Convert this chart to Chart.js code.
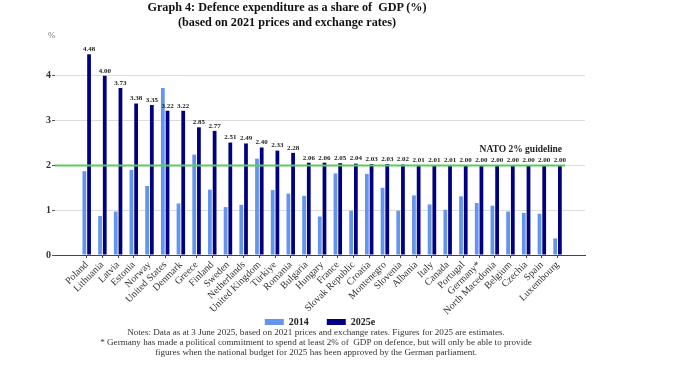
<!DOCTYPE html>
<html>
<head>
<meta charset="utf-8">
<script src="https://cdn.jsdelivr.net/npm/chart.js@4/dist/chart.umd.min.js"></script>
<style>
  body { margin: 0; background: #fff; }
  #wrap { position: relative; width: 678px; height: 381px; font-family: 'Liberation Serif', 'DejaVu Serif', serif; }
  #chart { position: absolute; left: 0; top: 0; }
  #title { position: absolute; left: 0; top: 0; width: 574px; text-align: center; font-weight: bold; font-size: 12.2px; line-height: 15px; color: #111; }
  #unit { position: absolute; left: 48px; top: 30px; font-size: 9px; color: #777; }
  #notes { position: absolute; left: 0; top: 327px; width: 632px; text-align: center; font-size: 9.1px; line-height: 10px; color: #333; }
</style>
</head>
<body>
<div id="wrap">
  <canvas id="chart" width="678" height="381"></canvas>
  <div id="title">Graph 4: Defence expenditure as a share of&nbsp; GDP (%)<br>(based on 2021 prices and exchange rates)</div>
  <div id="unit">%</div>
  <div id="notes">Notes: Data as at 3 June 2025, based on 2021 prices and exchange rates. Figures for 2025 are estimates.<br>* Germany has made a political commitment to spend at least 2% of&nbsp; GDP on defence, but will only be able to provide<br>figures when the national budget for 2025 has been approved by the German parliament.</div>
</div>
<script>
// Data
const countries = ['Poland', 'Lithuania', 'Latvia', 'Estonia', 'Norway', 'United States', 'Denmark', 'Greece',
  'Finland', 'Sweden', 'Netherlands', 'United Kingdom', 'Türkiye', 'Romania', 'Bulgaria', 'Hungary', 'France',
  'Slovak Republic', 'Croatia', 'Montenegro', 'Slovenia', 'Albania', 'Italy', 'Canada', 'Portugal', 'Germany*',
  'North Macedonia', 'Belgium', 'Czechia', 'Spain', 'Luxembourg'];
const values2014 = [1.87, 0.87, 0.97, 1.90, 1.54, 3.73, 1.15, 2.24, 1.46, 1.07, 1.12, 2.15, 1.45, 1.37, 1.32, 0.86,
  1.82, 0.99, 1.81, 1.50, 0.99, 1.33, 1.13, 1.01, 1.31, 1.16, 1.10, 0.97, 0.94, 0.92, 0.37];
const values2025 = [4.48, 4.00, 3.73, 3.38, 3.35, 3.22, 3.22, 2.85, 2.77, 2.51, 2.49, 2.40, 2.33, 2.28, 2.06, 2.06,
  2.05, 2.04, 2.03, 2.03, 2.02, 2.01, 2.01, 2.01, 2.00, 2.00, 2.00, 2.00, 2.00, 2.00, 2.00];
const seriesLabels = ['2014', '2025e'];
const yTicks = [0, 1, 2, 3, 4];
const natoLevel = 2;
const natoLabel = 'NATO 2% guideline';

const SERIF = "'Liberation Serif', 'DejaVu Serif', serif";
Chart.defaults.font.family = SERIF;

// x range in category units (leaves the empty margin at both ends of the axis)
const X_MIN = -2.02;
const X_MAX = 31.75;
const NATO_END = 30.48;

// Value labels above the 2025 bars and the NATO caption
const labelPlugin = {
  id: 'labels',
  afterLayout(chart) {
    // pull the legend up under the short labels
    chart.legend.top -= 16;
    chart.legend.bottom -= 16;
  },
  afterDatasetsDraw(chart) {
    const ctx = chart.ctx;
    const meta = chart.getDatasetMeta(1);
    ctx.save();
    ctx.fillStyle = '#222';
    ctx.font = 'bold 7px ' + SERIF;
    ctx.textAlign = 'center';
    ctx.textBaseline = 'bottom';
    meta.data.forEach((bar, i) => {
      ctx.fillText(values2025[i].toFixed(2), bar.x, bar.y - 1.5);
    });
    const xs = chart.scales.x, ys = chart.scales.y;
    ctx.font = 'bold 9.5px ' + SERIF;
    ctx.textAlign = 'right';
    ctx.fillText(natoLabel, xs.getPixelForValue(NATO_END) - 3, ys.getPixelForValue(natoLevel) - 11);
    ctx.restore();
  }
};

new Chart(document.getElementById('chart'), {
  type: 'bar',
  data: {
    datasets: [
      {
        label: seriesLabels[0],
        data: values2014.map((v, i) => ({ x: i, y: v })),
        backgroundColor: '#6495ed',
        borderWidth: 0,
        categoryPercentage: 0.6,
        barPercentage: 0.8,
        order: 1
      },
      {
        label: seriesLabels[1],
        data: values2025.map((v, i) => ({ x: i, y: v })),
        backgroundColor: '#000080',
        borderWidth: 0,
        categoryPercentage: 0.6,
        barPercentage: 0.8,
        order: 1
      },
      {
        type: 'line',
        label: natoLabel,
        data: [{ x: X_MIN, y: natoLevel }, { x: NATO_END, y: natoLevel }],
        borderColor: '#5ccb5c',
        borderWidth: 2,
        pointRadius: 0,
        order: 0
      }
    ]
  },
  options: {
    responsive: false,
    animation: false,
    layout: { padding: { top: 31, right: 93, bottom: 28, left: 0 } },
    scales: {
      x: {
        type: 'linear',
        offset: false,
        min: X_MIN,
        max: X_MAX,
        afterBuildTicks: (axis) => { axis.ticks = countries.map((c, i) => ({ value: i })); },
        afterFit: (axis) => { axis.height = 60; },
        grid: { offset: false, drawOnChartArea: false, tickLength: 3, tickColor: '#444' },
        border: { color: '#444', width: 1 },
        ticks: {
          autoSkip: false,
          minRotation: 45,
          maxRotation: 45,
          padding: 1,
          color: '#333',
          font: { size: 10 },
          callback: (v) => countries[v] ?? ''
        }
      },
      y: {
        min: 0,
        max: 5,
        afterBuildTicks: (axis) => { axis.ticks = yTicks.map(v => ({ value: v })); },
        afterFit: (axis) => { axis.width = 55; },
        grid: {
          color: (c) => c.tick && c.tick.value === 0 ? '#444' : '#dcdcdc',
          tickColor: '#555',
          tickLength: 3
        },
        border: { display: false },
        ticks: { padding: 1, color: '#333', font: { size: 10, weight: 'bold' } }
      }
    },
    plugins: {
      title: { display: false },
      tooltip: { enabled: false },
      legend: {
        position: 'bottom',
        fullSize: false,
        labels: {
          boxWidth: 19,
          boxHeight: 6,
          padding: 18,
          color: '#222',
          font: { size: 10, weight: 'bold' },
          filter: (item) => item.datasetIndex < 2
        }
      }
    }
  },
  plugins: [labelPlugin]
});
</script>
</body>
</html>
